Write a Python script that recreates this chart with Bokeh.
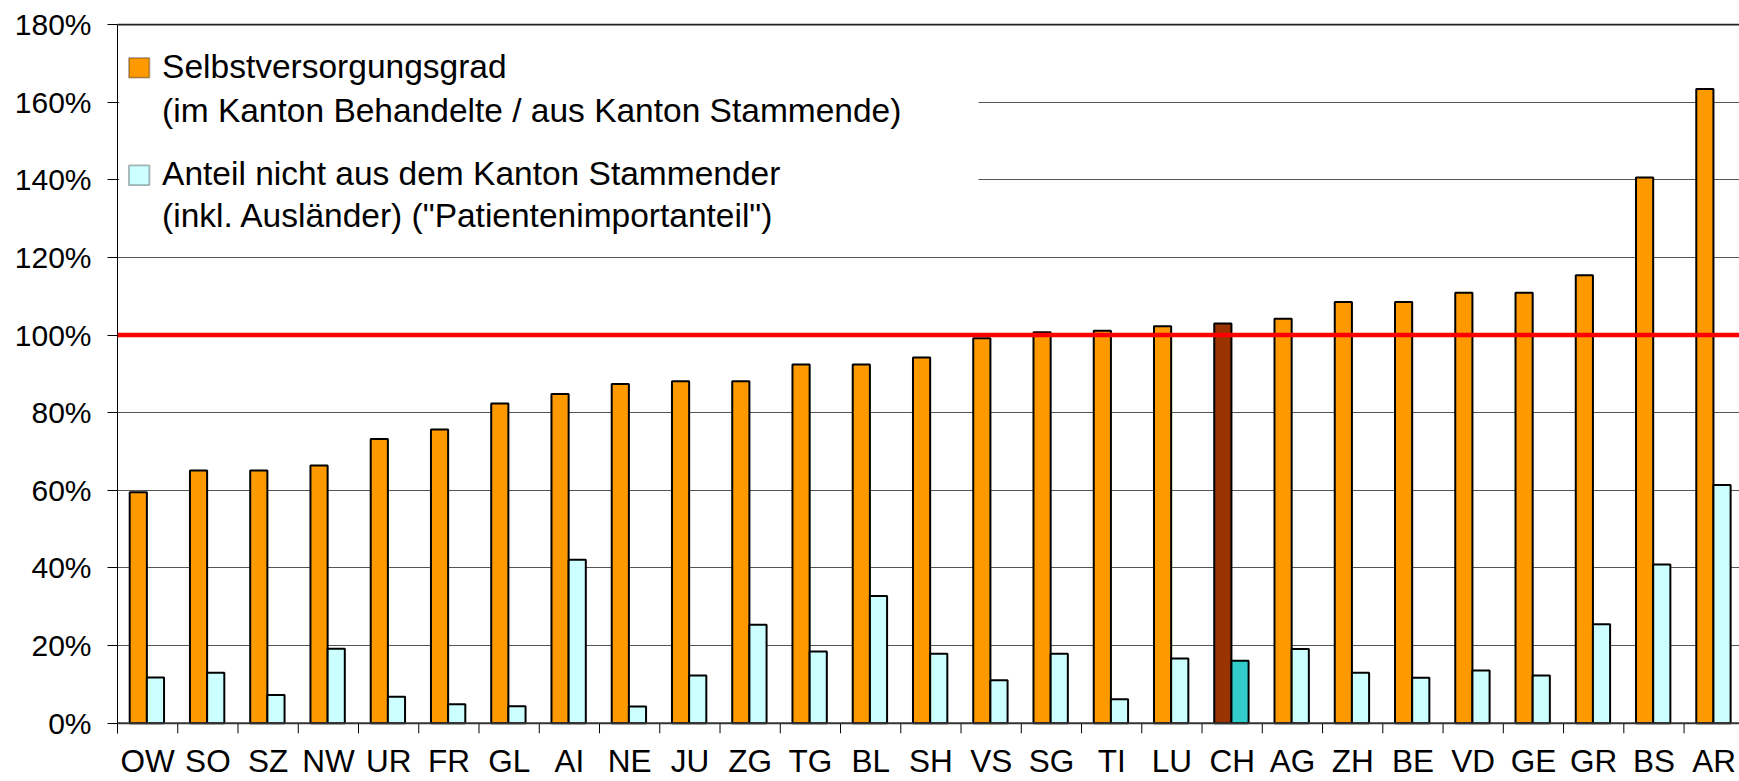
from bokeh.plotting import figure
from bokeh.models import (ColumnDataSource, FixedTicker, PrintfTickFormatter, Span,
                          BoxAnnotation, Label, Range1d)
from bokeh.core.properties import value
from bokeh.transform import dodge
from bokeh.embed import file_html
from bokeh.resources import INLINE

# ---- data ----
cantons = ["OW", "SO", "SZ", "NW", "UR", "FR", "GL", "AI", "NE", "JU", "ZG", "TG", "BL", "SH",
           "VS", "SG", "TI", "LU", "CH", "AG", "ZH", "BE", "VD", "GE", "GR", "BS", "AR"]
selbstversorgungsgrad = [59.5, 65.1, 65.1, 66.4, 73.2, 75.7, 82.4, 84.8, 87.4, 88.1, 88.1, 92.4, 92.4, 94.2,
                         99.2, 100.7, 101.1, 102.3, 103.0, 104.2, 108.5, 108.5, 110.9, 110.9, 115.4, 140.6, 163.4]
importanteil = [11.8, 13.0, 7.3, 19.2, 6.8, 4.9, 4.4, 42.1, 4.3, 12.3, 25.4, 18.5, 32.8, 17.9,
                11.1, 17.9, 6.2, 16.7, 16.1, 19.1, 13.0, 11.7, 13.6, 12.3, 25.5, 40.9, 61.4]
y_ticks = [0, 20, 40, 60, 80, 100, 120, 140, 160, 180]
highlight = "CH"

legend_lines_1 = ["Selbstversorgungsgrad", "(im Kanton Behandelte / aus Kanton Stammende)"]
legend_lines_2 = ["Anteil nicht aus dem Kanton Stammender", "(inkl. Ausländer) (\"Patientenimportanteil\")"]

ORANGE, CYAN = "#FF9900", "#CCFFFF"
BROWN, TEAL = "#993300", "#33CCCC"
FONT = "Liberation Sans"

# ---- layout constants (pixels -> data units) ----
PX_PER_PCT = 3.882          # vertical scale
TICK_LEN = 10 / PX_PER_PCT  # category tick length in % units
LABEL_Y = -38 / PX_PER_PCT  # position of category names below 0 %

n = len(cantons)
centers = [i + 0.5 for i in range(n)]
bounds = [float(i) for i in range(n + 1)]

src = ColumnDataSource(dict(
    x=centers,
    ly=[LABEL_Y] * n,
    name=cantons,
    sv=selbstversorgungsgrad,
    imp=importanteil,
    c1=[BROWN if c == highlight else ORANGE for c in cantons],
    c2=[TEAL if c == highlight else CYAN for c in cantons],
))
tick_src = ColumnDataSource(dict(b=bounds, y0=[0] * len(bounds), y1=[-TICK_LEN] * len(bounds)))

p = figure(width=1739, height=781,
           x_range=Range1d(0, 26.92), y_range=Range1d(-15.0, 180.26),
           x_axis_location=None,
           output_backend="svg", toolbar_location=None,
           min_border_left=117, min_border_right=0, min_border_top=23, min_border_bottom=0)
p.outline_line_color = None
p.background_fill_color = "white"
p.border_fill_color = "white"

# grid
p.xgrid.visible = False
p.ygrid.ticker = FixedTicker(ticks=y_ticks)
p.ygrid.grid_line_color = "#555555"
p.ygrid.grid_line_width = 1

# y axis
p.yaxis.ticker = FixedTicker(ticks=y_ticks)
p.yaxis.bounds = (-TICK_LEN, 180)
p.yaxis.formatter = PrintfTickFormatter(format="%d%%")
p.yaxis.major_tick_out = 10
p.yaxis.major_tick_in = 0
p.yaxis.minor_tick_out = 0
p.yaxis.minor_tick_in = 0
p.yaxis.major_label_standoff = 16
p.yaxis.major_label_text_font = FONT
p.yaxis.major_label_text_font_size = "30px"
p.yaxis.major_label_text_color = "black"
p.yaxis.axis_line_color = "black"
p.yaxis.major_tick_line_color = "black"

# top line at 180%
p.add_layout(Span(location=180, dimension="width", line_color="#222222", line_width=2))

# bars
p.vbar(x=dodge("x", -0.155, range=p.x_range), top="sv", width=0.285, bottom=0,
       fill_color="c1", line_color="black", line_width=2, source=src)
p.vbar(x=dodge("x", 0.13, range=p.x_range), top="imp", width=0.285, bottom=0,
       fill_color="c2", line_color="black", line_width=2, source=src)

# category axis: baseline, boundary ticks, names
p.add_layout(Span(location=0, dimension="width", line_color="#333333", line_width=2))
p.segment(x0="b", y0="y0", x1="b", y1="y1", source=tick_src, line_color="black", line_width=1)
p.text(x="x", y="ly", text="name", source=src, text_align="center", text_baseline="alphabetic",
       text_font=value(FONT), text_font_size="31.5px", text_color="black")

# 100% reference line
p.add_layout(Span(location=100, dimension="width", line_color="#FF0000", line_width=4.5))

# legend (manual, inside plot area)
p.add_layout(BoxAnnotation(left=0.03, right=14.29, bottom=123, top=179.4,
                           fill_color="white", fill_alpha=1.0, line_color=None))
p.add_layout(BoxAnnotation(left=0.19, right=0.53, bottom=166.3, top=171.4,
                           fill_color=ORANGE, fill_alpha=1.0, line_color="black", line_width=1.8))
p.add_layout(BoxAnnotation(left=0.19, right=0.53, bottom=138.6, top=143.7,
                           fill_color=CYAN, fill_alpha=1.0, line_color="black", line_width=1.8))
for txt, yy in zip(legend_lines_1 + legend_lines_2, [169.2, 157.9, 141.6, 130.8]):
    p.add_layout(Label(x=0.74, y=yy, text=txt, text_baseline="alphabetic", text_align="left",
                       text_font=FONT, text_font_size="33.5px", text_color="black"))

open("out.html", "w").write(file_html(p, INLINE))
